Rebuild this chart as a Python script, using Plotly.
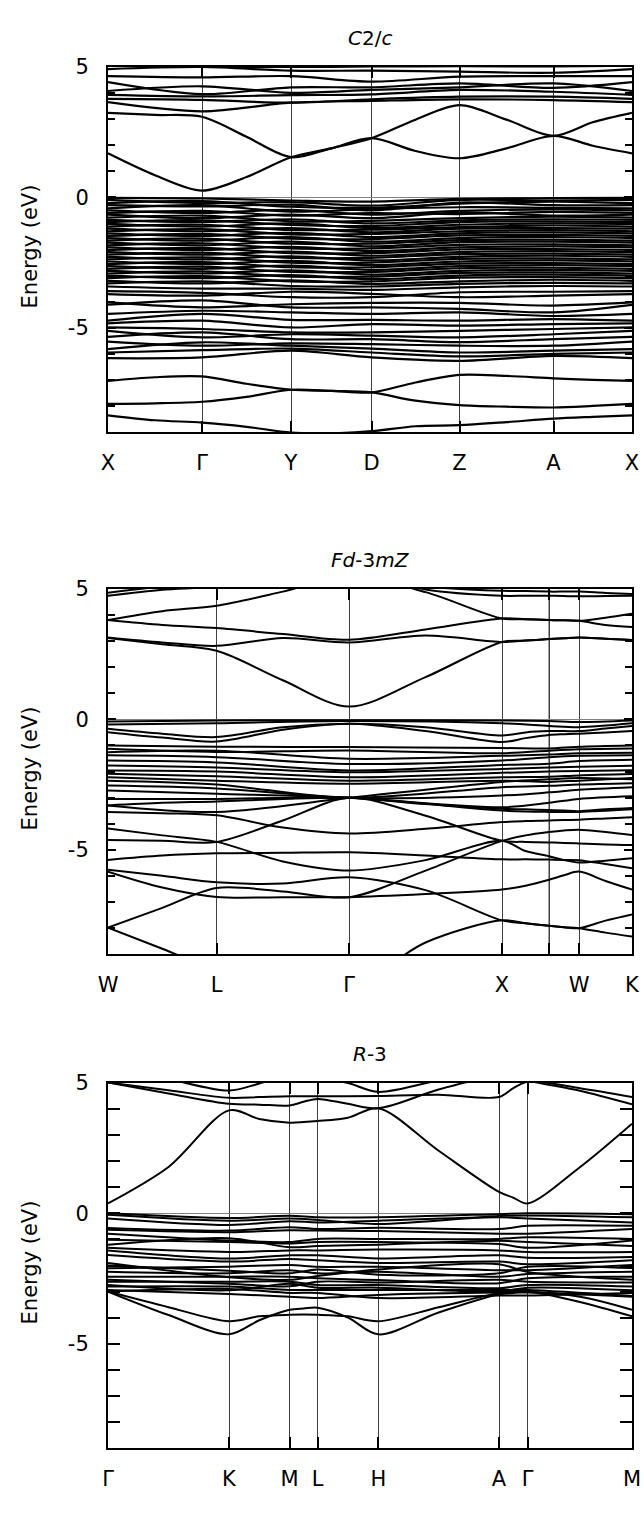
import plotly.graph_objects as go

FONT = "DejaVu Sans"

# ---------------- Panel 1 : C2/c ----------------
P1_TITLE = "<i>C</i>2/<i>c</i>"
P1_LABELS = ["X", "Γ", "Y", "D", "Z", "A", "X"]
P1_K = [0, 94, 183, 263.5, 351.5, 445.5, 524]
P1_EXTRA = []

# bands sampled at high-symmetry points and segment midpoints (13 values)
P1_FINE = [
    [1.69, 0.85, 0.26, 0.78, 1.54, 1.88, 2.27, 1.78, 1.50, 1.88, 2.36, 1.98, 1.69],
    [3.24, 3.16, 3.09, 2.32, 1.54, 1.88, 2.27, 2.98, 3.54, 2.98, 2.36, 2.88, 3.24],
    [-7.04, -6.90, -6.87, -7.15, -7.38, -7.42, -7.48, -7.10, -6.81, -6.85, -6.94, -7.00, -7.04],
    [-7.92, -7.90, -7.84, -7.65, -7.38, -7.42, -7.48, -7.80, -7.97, -8.03, -8.06, -8.00, -7.92],
    [-8.36, -8.55, -8.64, -8.80, -9.02, -9.05, -8.97, -8.78, -8.74, -8.62, -8.49, -8.42, -8.36],
]
# bands sampled at high-symmetry points only (7 values)
P1_COARSE = [
    [5.05, 5.02, 5.00, 5.02, 5.03, 5.02, 5.05],
    [4.92, 5.00, 4.86, 4.86, 4.82, 4.78, 4.92],
    [4.65, 4.60, 4.65, 4.44, 4.63, 4.65, 4.65],
    [4.42, 3.96, 4.22, 4.22, 4.37, 4.20, 4.42],
    [4.08, 4.26, 4.01, 4.12, 4.22, 4.37, 4.08],
    [3.93, 3.87, 3.92, 3.95, 4.12, 4.05, 3.93],
    [3.78, 3.74, 3.63, 3.76, 3.86, 3.86, 3.78],
    [3.65, 3.30, 3.63, 3.70, 3.76, 3.73, 3.65],
    [-0.02, -0.04, -0.12, -0.16, -0.06, -0.03, -0.02],
    [-0.10, -0.22, -0.18, -0.32, -0.10, -0.12, -0.10],
    [-0.22, -0.14, -0.36, -0.40, -0.24, -0.16, -0.22],
    [-0.30, -0.35, -0.28, -0.50, -0.20, -0.30, -0.30],
    [-0.42, -0.30, -0.55, -0.45, -0.38, -0.40, -0.42],
    [-0.50, -0.60, -0.48, -0.66, -0.52, -0.46, -0.50],
    [-0.60, -0.52, -0.70, -0.60, -0.64, -0.56, -0.60],
    [-0.66, -0.80, -0.66, -0.80, -0.58, -0.70, -0.66],
    [-0.78, -0.70, -0.92, -0.90, -0.80, -0.74, -0.78],
    [-0.86, -0.95, -0.84, -1.00, -0.88, -0.84, -0.86],
    [-0.95, -0.88, -1.06, -1.10, -0.95, -0.92, -0.95],
    [-1.02, -1.12, -1.00, -1.18, -1.05, -1.00, -1.02],
    [-1.12, -1.05, -1.25, -1.24, -1.14, -1.08, -1.12],
    [-1.20, -1.30, -1.18, -1.34, -1.20, -1.18, -1.20],
    [-1.30, -1.22, -1.42, -1.40, -1.30, -1.26, -1.30],
    [-1.38, -1.48, -1.36, -1.52, -1.38, -1.34, -1.38],
    [-1.48, -1.40, -1.58, -1.60, -1.46, -1.44, -1.48],
    [-1.56, -1.66, -1.52, -1.70, -1.56, -1.52, -1.56],
    [-1.66, -1.58, -1.78, -1.78, -1.64, -1.62, -1.66],
    [-1.74, -1.84, -1.70, -1.88, -1.72, -1.70, -1.74],
    [-1.84, -1.76, -1.96, -1.96, -1.82, -1.80, -1.84],
    [-1.92, -2.02, -1.90, -2.06, -1.92, -1.88, -1.92],
    [-2.02, -1.94, -2.14, -2.14, -2.00, -1.98, -2.02],
    [-2.10, -2.20, -2.08, -2.24, -2.10, -2.06, -2.10],
    [-2.20, -2.12, -2.32, -2.32, -2.18, -2.16, -2.20],
    [-2.28, -2.38, -2.26, -2.42, -2.28, -2.24, -2.28],
    [-2.38, -2.30, -2.50, -2.50, -2.36, -2.34, -2.38],
    [-2.46, -2.56, -2.44, -2.60, -2.46, -2.42, -2.46],
    [-2.56, -2.48, -2.68, -2.68, -2.54, -2.52, -2.56],
    [-2.64, -2.74, -2.62, -2.78, -2.64, -2.60, -2.64],
    [-2.74, -2.66, -2.86, -2.86, -2.72, -2.70, -2.74],
    [-2.82, -2.92, -2.80, -2.96, -2.82, -2.78, -2.82],
    [-2.92, -2.84, -3.04, -3.04, -2.90, -2.88, -2.92],
    [-3.00, -3.10, -2.98, -3.14, -3.00, -2.96, -3.00],
    [-3.10, -3.02, -3.22, -3.22, -3.08, -3.06, -3.10],
    [-3.20, -3.30, -3.18, -3.32, -3.22, -3.16, -3.20],
    [-3.30, -3.22, -3.40, -3.42, -3.32, -3.28, -3.30],
    [-3.42, -3.50, -3.50, -3.55, -3.45, -3.40, -3.42],
    [-3.60, -3.66, -3.83, -3.83, -3.64, -3.62, -3.60],
    [-3.71, -3.77, -3.62, -3.70, -3.83, -3.77, -3.71],
    [-4.03, -4.22, -4.10, -4.05, -4.05, -4.15, -4.03],
    [-4.12, -3.95, -4.22, -4.22, -4.28, -4.41, -4.12],
    [-4.47, -4.35, -4.41, -4.47, -4.41, -4.55, -4.47],
    [-4.73, -4.47, -4.70, -4.70, -4.73, -4.67, -4.73],
    [-4.83, -4.73, -4.99, -4.86, -4.92, -4.86, -4.83],
    [-4.99, -5.05, -5.18, -5.18, -5.12, -5.05, -4.99],
    [-5.12, -5.37, -5.25, -5.30, -5.37, -5.25, -5.12],
    [-5.35, -5.18, -5.44, -5.44, -5.55, -5.44, -5.35],
    [-5.53, -5.69, -5.60, -5.63, -5.69, -5.69, -5.53],
    [-5.82, -5.56, -5.69, -5.80, -5.95, -5.88, -5.82],
    [-5.95, -5.86, -5.80, -5.95, -6.10, -6.00, -5.95],
    [-6.17, -6.14, -5.88, -6.14, -6.27, -6.08, -6.17],
]

# ---------------- Panel 2 : Fd-3mZ ----------------
P2_TITLE = "<i>Fd</i>-3<i>mZ</i>"
P2_LABELS = ["W", "L", "Γ", "X", "", "W", "K"]
P2_K = [0, 108.6, 241.1, 394, 441, 471, 524]
P2_EXTRA = [441]

P2_FINE = [
    [3.12, 2.88, 2.63, 1.50, 0.49, 1.62, 2.97, 3.02, 3.08, 3.11, 3.14, 3.09, 3.04],
    [3.14, 2.95, 2.82, 3.12, 2.95, 3.22, 2.97, 3.02, 3.08, 3.11, 3.14, 3.09, 3.04],
    [3.81, 3.62, 3.50, 3.27, 3.05, 3.45, 3.87, 3.84, 3.81, 3.80, 3.78, 3.62, 3.54],
    [3.81, 4.15, 4.36, 4.90, 5.50, 4.88, 3.87, 3.84, 3.81, 3.80, 3.78, 3.90, 4.05],
    [4.86, 5.10, 5.30, 5.60, 5.70, 4.98, 4.74, 4.74, 4.74, 4.73, 4.72, 4.73, 4.74],
    [4.74, 4.97, 5.10, 5.50, 5.60, 5.10, 4.93, 4.92, 4.90, 4.90, 4.90, 4.85, 4.81],
    [-0.36, -0.55, -0.68, -0.30, -0.17, -0.30, -0.62, -0.50, -0.45, -0.45, -0.45, -0.35, -0.25],
    [-0.49, -0.70, -0.85, -0.40, -0.17, -0.45, -0.87, -0.72, -0.60, -0.57, -0.55, -0.50, -0.45],
    [-3.30, -3.20, -3.15, -3.05, -3.01, -3.25, -3.43, -3.45, -3.48, -3.50, -3.52, -3.45, -3.40],
    [-3.55, -3.60, -3.68, -4.15, -4.38, -4.20, -3.94, -3.90, -3.88, -3.86, -3.85, -3.80, -3.75],
    [-4.63, -4.66, -4.70, -3.88, -3.01, -3.70, -4.66, -4.70, -4.72, -4.74, -4.76, -4.80, -4.82],
    [-4.19, -4.45, -4.70, -5.45, -5.80, -5.40, -4.66, -5.05, -5.25, -5.40, -5.49, -5.42, -5.33],
    [-5.39, -5.22, -5.14, -5.12, -5.10, -5.22, -5.37, -5.37, -5.38, -5.39, -5.40, -5.55, -5.71],
    [-5.84, -6.45, -6.81, -6.82, -6.82, -6.70, -6.53, -6.38, -6.15, -5.98, -5.84, -6.20, -6.53],
    [-7.99, -7.23, -6.47, -6.60, -6.82, -5.80, -4.66, -4.45, -4.32, -4.26, -4.23, -4.32, -4.44],
    [-5.77, -6.00, -6.25, -6.30, -6.06, -6.55, -7.71, -7.82, -7.92, -7.97, -8.01, -7.72, -7.48],
    [-7.99, -8.80, -9.60, -10.10, -10.30, -8.56, -7.71, -7.82, -7.92, -7.97, -8.01, -8.18, -8.33],
]
P2_COARSE = [
    [-0.08, -0.04, -0.03, -0.04, -0.06, -0.10, -0.04],
    [-0.20, -0.15, -0.06, -0.15, -0.25, -0.30, -0.15],
    [-1.00, -1.05, -1.06, -1.10, -1.12, -1.05, -1.00],
    [-1.13, -1.25, -1.19, -1.30, -1.20, -1.15, -1.12],
    [-1.26, -1.20, -1.51, -1.40, -1.35, -1.30, -1.28],
    [-1.38, -1.45, -1.71, -1.58, -1.45, -1.40, -1.38],
    [-1.58, -1.65, -1.96, -1.75, -1.70, -1.60, -1.55],
    [-1.77, -1.85, -2.03, -1.90, -1.85, -1.82, -1.78],
    [-1.96, -2.00, -2.22, -2.05, -2.00, -1.98, -1.95],
    [-2.09, -2.18, -2.35, -2.22, -2.20, -2.15, -2.10],
    [-2.22, -2.35, -2.47, -2.35, -2.40, -2.35, -2.25],
    [-2.35, -2.50, -3.01, -2.60, -2.55, -2.50, -2.45],
    [-2.54, -2.65, -3.01, -2.92, -2.80, -2.70, -2.60],
    [-2.73, -2.85, -3.01, -3.37, -3.20, -3.05, -2.95],
    [-3.05, -3.05, -3.01, -3.50, -3.55, -3.55, -3.45],
    [-3.30, -3.55, -3.01, -2.40, -2.30, -2.25, -2.30],
]

# ---------------- Panel 3 : R-3 ----------------
P3_TITLE = "<i>R</i>-3"
P3_LABELS = ["Γ", "K", "M", "L", "H", "A", "Γ", "M"]
P3_K = [0, 121, 181.5, 209.7, 270.3, 391, 419.7, 524]
P3_EXTRA = []

P3_FINE = [
    [0.38, 1.78, 3.95, 3.62, 3.48, 3.50, 3.54, 3.67, 4.03, 2.40, 0.82, 0.60, 0.38, 1.77, 3.44],
    [5.02, 4.60, 4.20, 4.17, 4.14, 4.28, 4.39, 4.20, 4.03, 4.75, 5.30, 5.30, 5.10, 4.70, 4.18],
    [5.02, 4.72, 4.43, 4.46, 4.49, 4.49, 4.49, 4.49, 4.50, 4.55, 4.46, 4.80, 5.05, 4.80, 4.46],
    [5.60, 5.15, 4.71, 4.98, 5.30, 5.30, 5.20, 5.00, 4.66, 5.10, 5.50, 5.50, 5.50, 5.50, 5.50],
    [-3.00, -3.90, -4.64, -4.10, -3.70, -3.65, -3.62, -4.00, -4.64, -3.80, -3.10, -3.05, -3.00, -3.40, -3.95],
    [-3.00, -3.60, -4.14, -3.95, -3.89, -3.88, -3.89, -3.95, -4.14, -3.60, -3.05, -3.00, -3.00, -3.20, -3.70],
]
P3_COARSE = [
    [0.00, -0.18, -0.09, -0.15, -0.15, -0.03, 0.00, -0.03],
    [-0.05, -0.28, -0.20, -0.25, -0.41, -0.10, -0.08, -0.15],
    [-0.20, -0.45, -0.30, -0.35, -0.28, -0.15, -0.20, -0.35],
    [-0.56, -0.66, -0.53, -0.60, -0.55, -0.60, -0.48, -0.48],
    [-0.63, -0.72, -0.65, -0.66, -0.68, -0.78, -0.78, -0.60],
    [-0.78, -1.04, -1.10, -0.98, -0.98, -0.98, -0.92, -0.98],
    [-1.01, -1.10, -1.16, -1.10, -1.10, -1.18, -1.32, -1.04],
    [-1.20, -0.95, -1.30, -1.25, -1.20, -1.05, -1.10, -1.25],
    [-1.32, -1.48, -1.42, -1.42, -1.39, -1.42, -1.48, -1.48],
    [-1.42, -1.73, -1.61, -1.61, -1.73, -1.61, -1.70, -1.67],
    [-1.60, -1.85, -1.75, -1.80, -1.90, -1.85, -1.95, -1.80],
    [-1.90, -2.45, -2.55, -2.40, -2.15, -1.95, -2.25, -2.55],
    [-2.00, -2.20, -2.30, -2.15, -2.35, -2.30, -2.05, -2.10],
    [-2.11, -2.05, -1.98, -2.05, -2.05, -2.18, -2.18, -1.98],
    [-2.24, -2.30, -2.18, -2.30, -2.24, -2.43, -2.33, -2.24],
    [-2.43, -2.43, -2.43, -2.49, -2.56, -2.68, -2.49, -2.43],
    [-2.55, -2.70, -2.80, -2.62, -2.65, -2.55, -2.62, -2.65],
    [-2.62, -2.62, -2.62, -2.75, -2.75, -2.87, -2.75, -2.81],
    [-2.75, -2.95, -2.70, -2.85, -2.85, -3.00, -2.85, -2.95],
    [-2.81, -2.81, -2.94, -2.94, -2.94, -2.94, -2.94, -3.17],
    [-2.94, -3.09, -3.20, -3.25, -3.13, -3.04, -3.04, -3.20],
    [-3.00, -2.90, -3.05, -3.05, -3.25, -3.15, -3.15, -3.05],
]

Y_RANGE = [-9, 5]
Y_TICKS = [5, 0, -5]
Y_TICKTEXT = ["5", "0", "-5"]

PANELS = [
    (P1_TITLE, P1_LABELS, P1_K, P1_EXTRA, P1_FINE, P1_COARSE),
    (P2_TITLE, P2_LABELS, P2_K, P2_EXTRA, P2_FINE, P2_COARSE),
    (P3_TITLE, P3_LABELS, P3_K, P3_EXTRA, P3_FINE, P3_COARSE),
]

# layout geometry (pixels)
W, H = 644, 1525
ML, MR = 108, 12
PANEL_TOPS = [67, 589, 1083]
PANEL_H = 365
LINE_W = [2.2, 2.0, 2.0]


def kpath(ticks, n):
    if n == len(ticks):
        return list(ticks)
    xs = []
    for i in range(len(ticks) - 1):
        xs.append(ticks[i])
        xs.append((ticks[i] + ticks[i + 1]) / 2.0)
    xs.append(ticks[-1])
    return xs


fig = go.Figure()
annotations = []
shapes = []

for i, (title, labels, ks, extra, fine, coarse) in enumerate(PANELS):
    n = i + 1
    xa = "x" if n == 1 else f"x{n}"
    ya = "y" if n == 1 else f"y{n}"
    for band in fine + coarse:
        fig.add_trace(go.Scatter(
            x=kpath(ks, len(band)), y=band, mode="lines",
            line=dict(color="black", width=LINE_W[i], shape="spline", smoothing=0.9),
            xaxis=xa, yaxis=ya, showlegend=False, hoverinfo="skip"))

    top = PANEL_TOPS[i]
    y1 = 1 - top / H
    y0 = 1 - (top + PANEL_H) / H
    axis_common = dict(showline=True, linecolor="black", linewidth=2, mirror="ticks",
                       automargin=False)
    fig.layout[f"xaxis{'' if n == 1 else n}"] = dict(
        domain=[0, 1], anchor=ya, range=[ks[0], ks[-1]],
        tickmode="array", tickvals=ks, ticktext=labels,
        ticks="inside", ticklen=11, tickwidth=1.5, tickcolor="black",
        showgrid=True, gridcolor="#404040", gridwidth=1, zeroline=False,
        tickfont=dict(family=FONT, size=21, color="black"),
        ticklabelstandoff=11, **axis_common)
    fig.layout[f"yaxis{'' if n == 1 else n}"] = dict(
        domain=[y0, y1], anchor=xa, range=Y_RANGE,
        tickmode="array", tickvals=Y_TICKS, ticktext=Y_TICKTEXT,
        ticks="inside", ticklen=8, tickwidth=1.5, tickcolor="black",
        minor=dict(dtick=1, tick0=0, ticks="inside", ticklen=7 if n < 3 else 12,
                   tickwidth=1.5, tickcolor="black", showgrid=False),
        showgrid=False, zeroline=True, zerolinecolor="#808080", zerolinewidth=1,
        tickfont=dict(family=FONT, size=21, color="black"),
        ticklabelstandoff=13, **axis_common)

    for kx in extra:
        shapes.append(dict(type="line", xref=xa, yref=f"{ya} domain",
                           x0=kx, x1=kx, y0=0, y1=1,
                           line=dict(color="#404040", width=1), layer="below"))

    annotations.append(dict(text=title, xref="paper", yref="paper",
                            x=0.5, y=1 - (top - 29) / H, xanchor="center", yanchor="middle",
                            showarrow=False, font=dict(family=FONT, size=20, color="black")))
    annotations.append(dict(text="Energy (eV)", xref="paper", yref="paper",
                            x=(30 - ML) / (W - ML - MR), y=(y0 + y1) / 2 + 0.002,
                            xanchor="center", yanchor="middle", textangle=-90,
                            showarrow=False, font=dict(family=FONT, size=21, color="black")))

fig.update_layout(
    template="none",
    width=W, height=H, autosize=False,
    margin=dict(l=ML, r=MR, t=0, b=0, pad=0, autoexpand=False),
    paper_bgcolor="white", plot_bgcolor="white",
    annotations=annotations, shapes=shapes,
    font=dict(family=FONT, color="black"),
)

fig.write_html(
    "out.html",
    config={"displayModeBar": False, "responsive": False},
    post_script="document.body.style.margin='0';document.body.style.padding='0';"
                "document.documentElement.style.overflow='hidden';",
)
